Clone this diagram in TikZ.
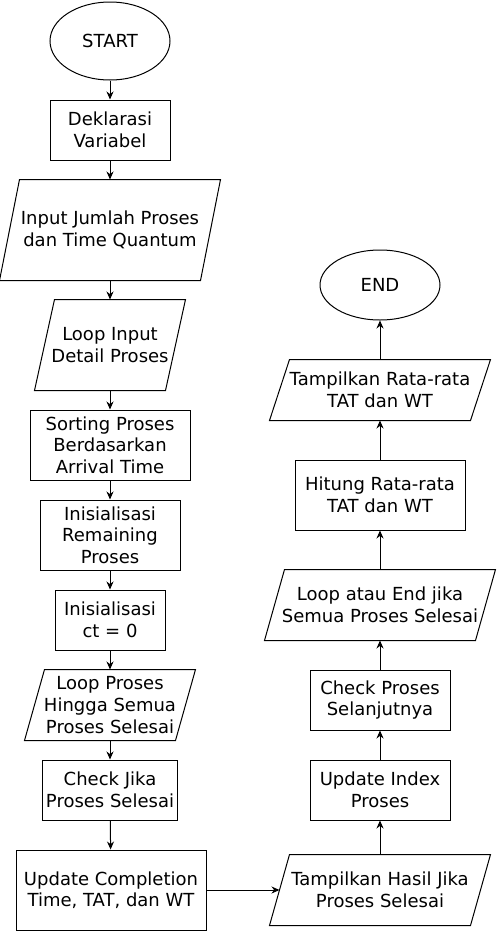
\documentclass[tikz,border=0pt]{standalone}
\usepackage{fontspec}
\setmainfont{DejaVu Sans}
\usetikzlibrary{shapes.geometric, arrows.meta}

\tikzset{
	terminal/.style={ellipse, draw, line width=1pt, minimum width=120pt, inner sep=0pt},
	process/.style={rectangle, draw, line width=1pt, align=center, inner sep=0pt},
	data/.style={rectangle, align=center, inner sep=0pt,
		append after command={[draw, line width=1pt]
			([xshift=-10pt]\tikzlastnode.south west) -- ([xshift=-10pt]\tikzlastnode.south east)
			-- ([xshift=10pt]\tikzlastnode.north east) -- ([xshift=10pt]\tikzlastnode.north west) -- cycle}},
	flow/.style={line width=1pt, -{Stealth[length=8pt, width=7pt]}}
}

\begin{document}
\begin{tikzpicture}[x=1pt, y=-1pt, font=\fontsize{18}{21.6}\selectfont]
	\useasboundingbox (0,0) rectangle (497,932);

	% kolom kiri
	\draw[line width=1pt]
		(110,41) node[terminal, minimum height=78pt] (start) {START}
		(110,130) node[process, minimum width=120pt, minimum height=60pt] (decl) {Deklarasi\\Variabel}
		(110,230) node[data, minimum width=200pt, minimum height=100pt] (inputj) {Input Jumlah Proses\\dan Time Quantum}
		(110,345) node[data, minimum width=130pt, minimum height=90pt] (loopin) {Loop Input\\Detail Proses}
		(110,445) node[process, minimum width=160pt, minimum height=70pt] (sort) {Sorting Proses\\Berdasarkan\\Arrival Time}
		(110,535) node[process, minimum width=140pt, minimum height=70pt] (initrem) {Inisialisasi\\Remaining\\Proses}
		(110,620) node[process, minimum width=110pt, minimum height=60pt] (initct) {Inisialisasi\\ct = 0}
		(110,705) node[data, minimum width=150pt, minimum height=70pt] (loopproc) {Loop Proses\\Hingga Semua\\Proses Selesai}
		(110,790) node[process, minimum width=135pt, minimum height=60pt] (check) {Check Jika\\Proses Selesai}
		(111,890) node[process, minimum width=190pt, minimum height=80pt] (update) {Update Completion\\Time, TAT, dan WT};

	% kolom kanan
	\draw[line width=1pt]
		(380,890) node[data, minimum width=200pt, minimum height=70pt] (tamphasil) {Tampilkan Hasil Jika\\Proses Selesai}
		(380,790) node[process, minimum width=140pt, minimum height=60pt] (updidx) {Update Index\\Proses}
		(380,700) node[process, minimum width=140pt, minimum height=60pt] (checknext) {Check Proses\\Selanjutnya}
		(380,605) node[data, minimum width=210pt, minimum height=70pt] (loopend) {Loop atau End jika\\Semua Proses Selesai}
		(380,495) node[process, minimum width=170pt, minimum height=70pt] (hitung) {Hitung Rata-rata\\TAT dan WT}
		(380,390) node[data, minimum width=200pt, minimum height=60pt] (tamprata) {Tampilkan Rata-rata\\TAT dan WT}
		(380,285) node[terminal, minimum height=70pt] (end) {END};

	\draw[flow] (start) -- (decl);
	\draw[flow] (decl) -- (inputj);
	\draw[flow] (inputj) -- (loopin);
	\draw[flow] (loopin) -- (sort);
	\draw[flow] (sort) -- (initrem);
	\draw[flow] (initrem) -- (initct);
	\draw[flow] (initct) -- (loopproc);
	\draw[flow] (loopproc) -- (check);
	\draw[flow] (check) -- (update);

	\draw[flow] (update) -- (tamphasil);

	\draw[flow] (tamphasil) -- (updidx);
	\draw[flow] (updidx) -- (checknext);
	\draw[flow] (checknext) -- (loopend);
	\draw[flow] (loopend) -- (hitung);
	\draw[flow] (hitung) -- (tamprata);
	\draw[flow] (tamprata) -- (end);
\end{tikzpicture}
\end{document}
